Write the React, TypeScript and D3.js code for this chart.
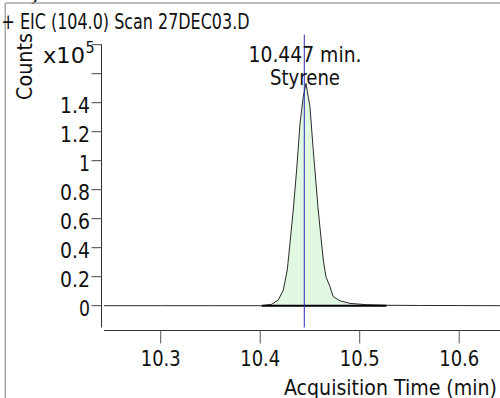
import React from "react";
import * as d3 from "d3";

// ---- data ----
const times = [
  10.243, 10.3, 10.35, 10.4015, 10.4115, 10.4182, 10.4232, 10.4272, 10.4299, 10.4332,
  10.4366, 10.44, 10.4433, 10.446, 10.45, 10.4533, 10.4583, 10.4634, 10.4661,
  10.4701, 10.4734, 10.4801, 10.4902, 10.507, 10.527, 10.56, 10.6, 10.641,
];
const counts = [
  0, 0, 0, 0, 970, 3970, 10800, 24600, 42900, 66000,
  93600, 125700, 144100, 153300, 137200, 107400, 66000, 31500, 20000,
  13100, 6200, 3400, 1600, 690, 280, 150, 100, 0,
];
const xTicks = [10.3, 10.4, 10.5, 10.6];
const xTickLabels = ["10.3", "10.4", "10.5", "10.6"];
const yTicks = [0, 20000, 40000, 60000, 80000, 100000, 120000, 140000, 160000, 180000];
const yTickLabels = ["0", "0.2", "0.4", "0.6", "0.8", "1", "1.2", "1.4", "", ""];
const integrationStart = 10.4015;
const integrationEnd = 10.527;
const markerTime = 10.4443;
const peakLabel = "10.447 min.";
const compoundName = "Styrene";
const title = "+ EIC (104.0) Scan 27DEC03.D";
const xTitle = "Acquisition Time (min)";
const yTitle = "Counts";

const FONT = "'DejaVu Sans Condensed', 'DejaVu Sans', sans-serif";
const FS = 21.5;

export default function App() {
  const W = 500;
  const H = 398;
  const x = d3.scaleLinear().domain([10.243, 10.641]).range([104, 500]);
  const y = d3.scaleLinear().domain([-15000, 180000]).range([327.45, 44.7]);

  const pts = times.map((t, i) => [t, counts[i]] as [number, number]);
  const line = d3
    .line<[number, number]>()
    .x((d) => x(d[0]))
    .y((d) => y(d[1]));
  const area = d3
    .area<[number, number]>()
    .x((d) => x(d[0]))
    .y0(y(0))
    .y1((d) => y(d[1]));
  const peakPts = pts.filter((d) => d[0] >= integrationStart && d[0] <= integrationEnd);

  const axisX = 101.5;
  const axisY = 330.5;
  const yBottom = y(-15000);
  const yTop = y(180000);

  // approximate label widths (px) per label length
  const tickWidth = (s: string) => (s.length === 1 ? 11 : s.length === 3 ? 30 : 40);

  return (
    <svg
      width={W}
      height={H}
      style={{ position: "absolute", left: 0, top: 0, background: "#fff" }}
      fontFamily={FONT}
      fontStretch="condensed"
    >
      <rect x={0} y={0} width={W} height={H} fill="#fff" />
      {/* clipped text above the frame */}
      <text x={30} y={0} fontSize={FS} fill="#111">y</text>
      {/* frame */}
      <line x1={5.25} y1={3} x2={W} y2={3} stroke="#a9a9a9" strokeWidth={1.5} />
      <line x1={5.25} y1={3} x2={5.25} y2={H} stroke="#a9a9a9" strokeWidth={1.5} />

      {/* title */}
      <text x={1.5} y={29} fontSize={FS} fill="#111" textLength={248} lengthAdjust="spacingAndGlyphs">
        {title}
      </text>

      {/* y title */}
      <text
        transform={`translate(32,66.5) rotate(-90)`}
        textAnchor="middle"
        fontSize={FS}
        fill="#111"
        textLength={67}
        lengthAdjust="spacingAndGlyphs"
      >
        {yTitle}
      </text>

      {/* exponent */}
      <text x={43} y={63} fontSize={FS} fill="#111" textLength={42} lengthAdjust="spacingAndGlyphs">x10</text>
      <text x={85.5} y={52.5} fontSize={16} fill="#111">5</text>

      {/* peak fill */}
      <path d={area(peakPts) || ""} fill="#e0f9e0" stroke="none" />
      {/* trace */}
      <path d={line(pts) || ""} fill="none" stroke="#2a2a2a" strokeWidth={1} />
      {/* integration baseline */}
      <line
        x1={x(integrationStart)}
        x2={x(integrationEnd)}
        y1={y(0)}
        y2={y(0)}
        stroke="#000"
        strokeWidth={2}
      />

      {/* y axis */}
      <line x1={axisX} x2={axisX} y1={yTop - 0.5} y2={yBottom} stroke="#333" strokeWidth={1} />
      {yTicks.map((v, i) => (
        <g key={v}>
          <line x1={axisX - 10} x2={axisX} y1={y(v)} y2={y(v)} stroke="#444" strokeWidth={1} />
          {yTickLabels[i] !== "" && (
            <text
              x={90}
              y={y(v) + 10}
              textAnchor="end"
              fontSize={FS}
              fill="#111"
              textLength={tickWidth(yTickLabels[i])}
              lengthAdjust="spacingAndGlyphs"
            >
              {yTickLabels[i]}
            </text>
          )}
        </g>
      ))}

      {/* x axis */}
      <line x1={104} x2={W} y1={axisY} y2={axisY} stroke="#333" strokeWidth={1} />
      {xTicks.map((v, i) => (
        <g key={v}>
          <line x1={x(v)} x2={x(v)} y1={axisY} y2={axisY + 13} stroke="#555" strokeWidth={1} />
          <text
            x={x(v)}
            y={366}
            textAnchor="middle"
            fontSize={FS}
            fill="#111"
            textLength={40}
            lengthAdjust="spacingAndGlyphs"
          >
            {xTickLabels[i]}
          </text>
        </g>
      ))}
      <text x={497} y={395} textAnchor="end" fontSize={FS} fill="#111" textLength={213} lengthAdjust="spacingAndGlyphs">
        {xTitle}
      </text>

      {/* marker */}
      <line
        x1={x(markerTime)}
        x2={x(markerTime)}
        y1={yTop - 10}
        y2={yBottom}
        stroke="#2b2bbb"
        strokeWidth={1}
      />
      <text x={305} y={62} textAnchor="middle" fontSize={FS} fill="#111" textLength={113} lengthAdjust="spacingAndGlyphs">
        {peakLabel}
      </text>
      <text x={305} y={85} textAnchor="middle" fontSize={FS} fill="#111" textLength={70} lengthAdjust="spacingAndGlyphs">
        {compoundName}
      </text>
    </svg>
  );
}
